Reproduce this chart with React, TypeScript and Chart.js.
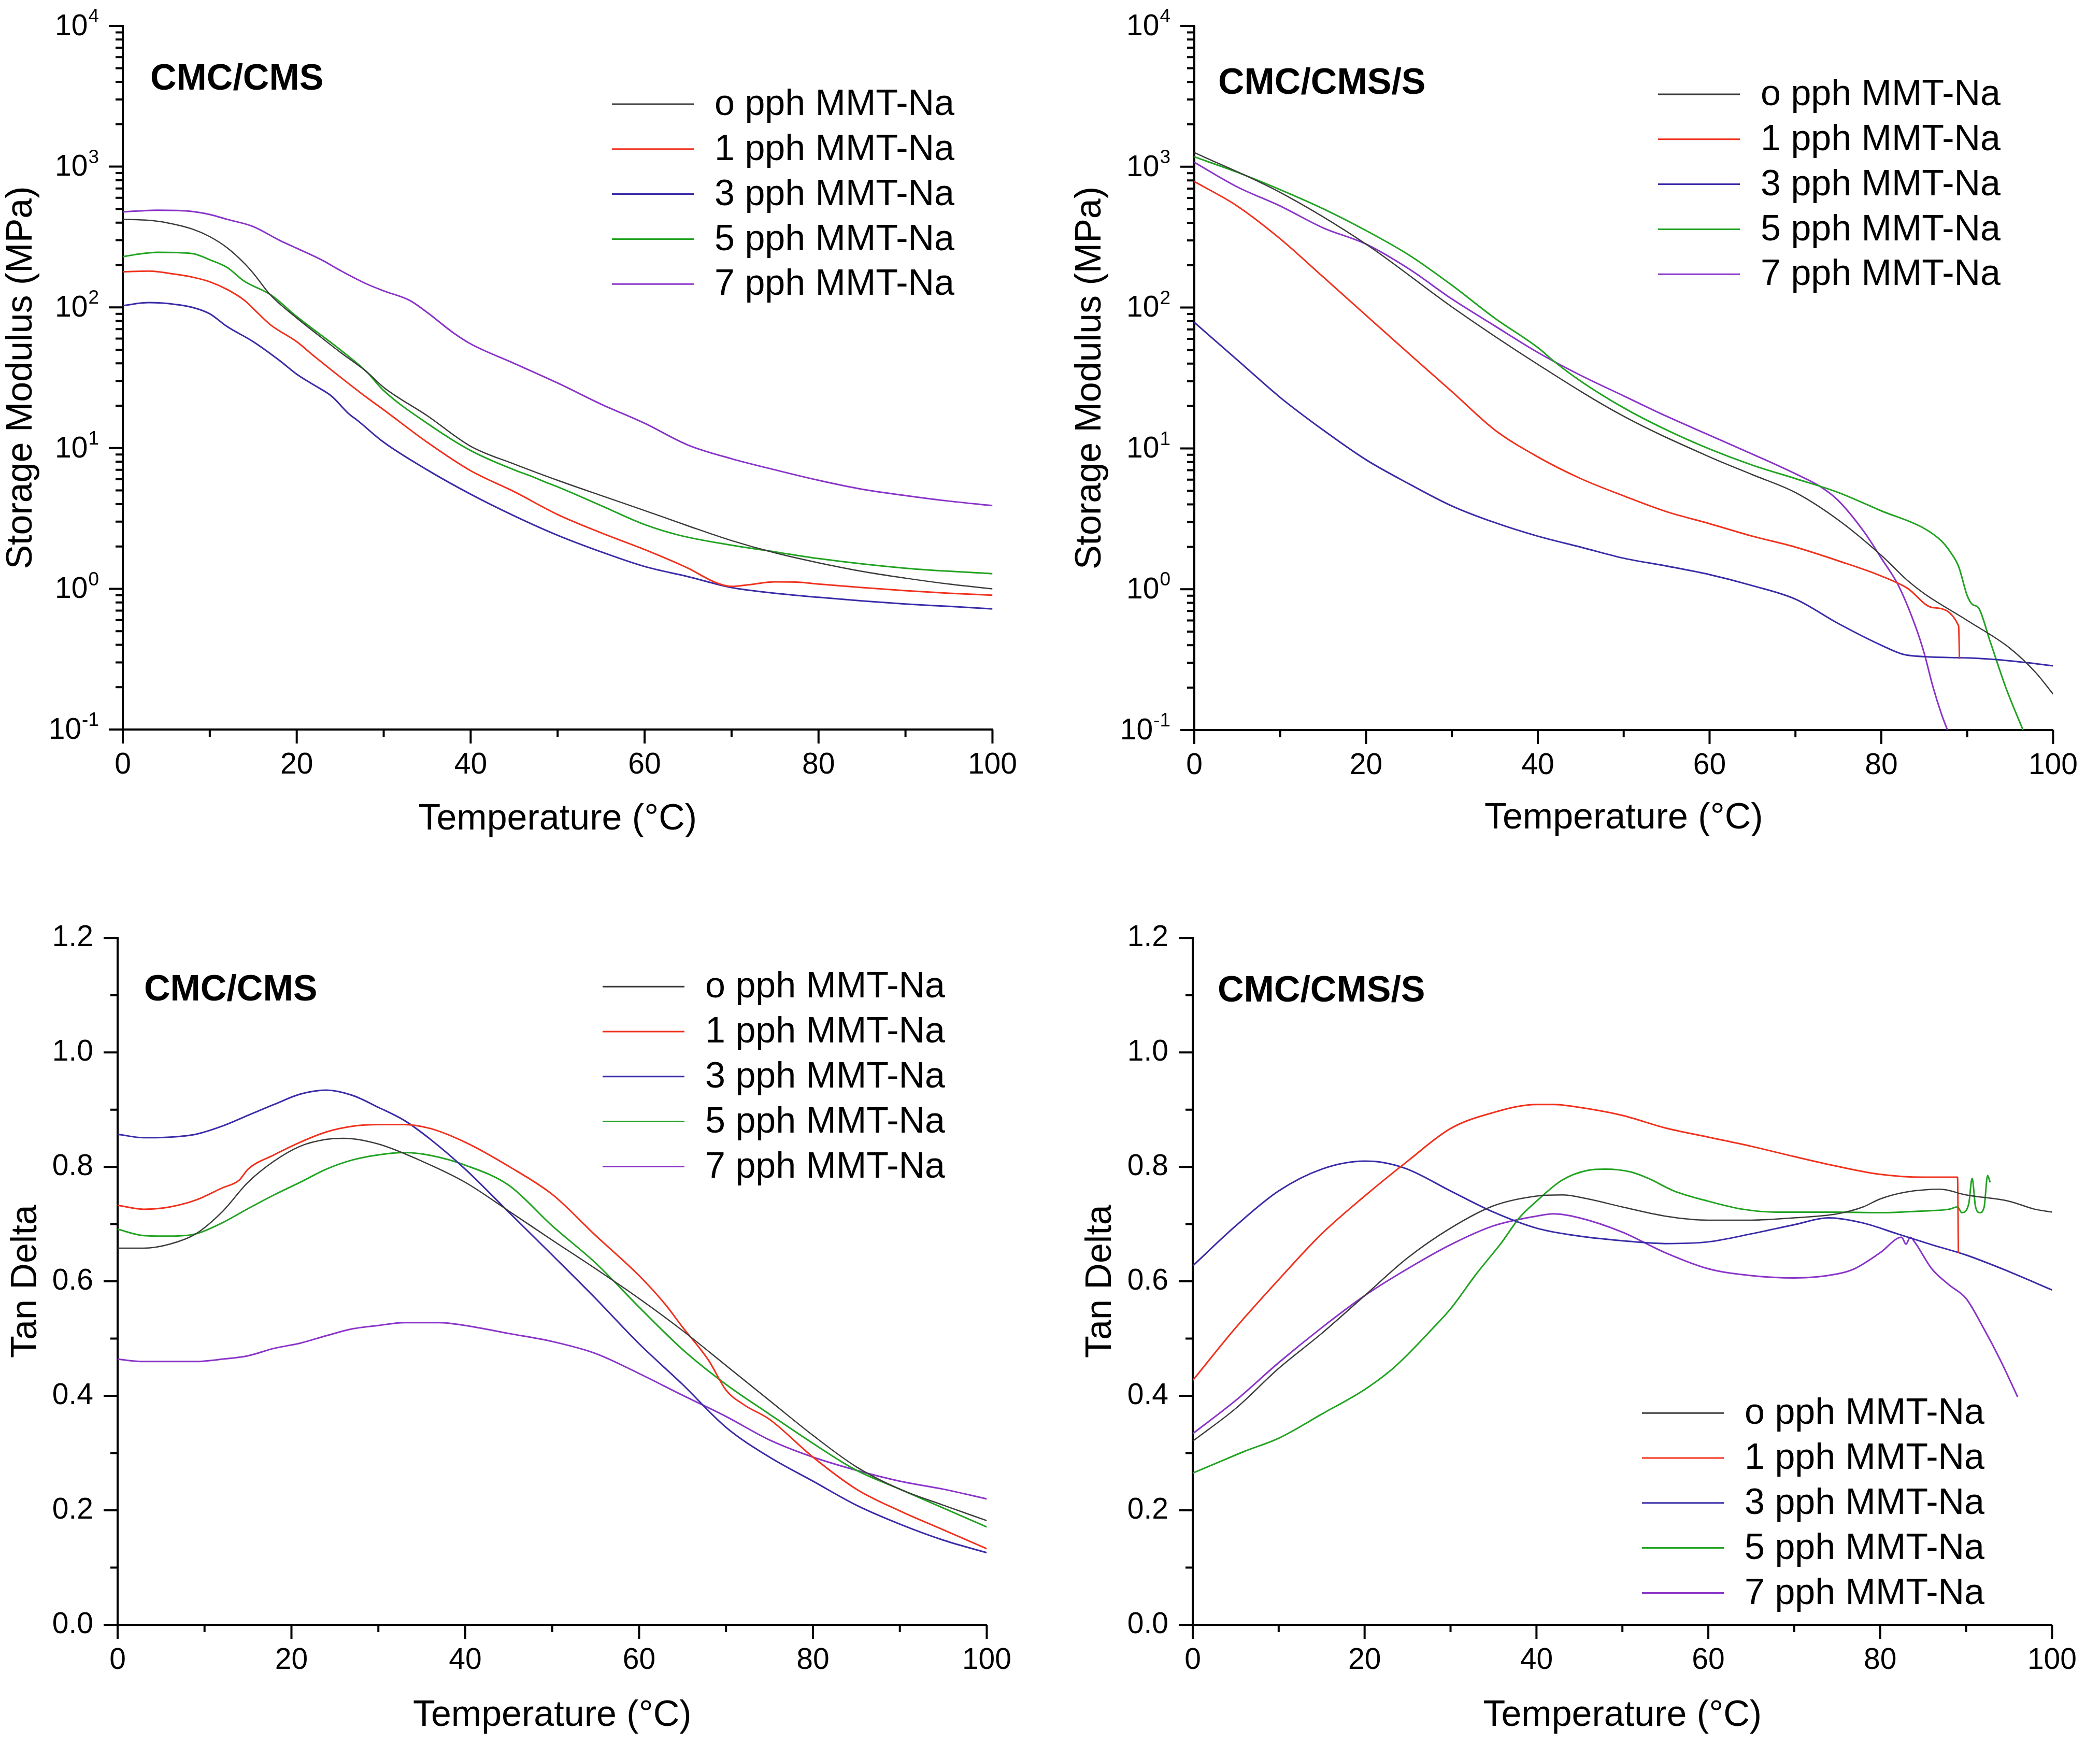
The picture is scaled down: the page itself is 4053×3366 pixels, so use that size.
import { useEffect, useRef } from "react";
import { Chart, registerables } from "chart.js";

Chart.register(...registerables);

const FONT = "'Liberation Sans', Arial, sans-serif";

// legend / series
const seriesLabels = ["o pph MMT-Na", "1 pph MMT-Na", "3 pph MMT-Na", "5 pph MMT-Na", "7 pph MMT-Na"];
const seriesColors = ["#3c3c3c", "#f0321e", "#3a2ca8", "#22a322", "#8a34c9"];

// ticks
const tempTicks = [0, 10, 20, 30, 40, 50, 60, 70, 80, 90, 100];
const logDecades = [-1, 0, 1, 2, 3, 4];
const logMinors = [2, 3, 4, 5, 6, 7, 8, 9];
const tanTicks = [0, 0.1, 0.2, 0.3, 0.4, 0.5, 0.6, 0.7, 0.8, 0.9, 1.0, 1.1, 1.2];

// ---- CMC/CMS storage modulus (MPa)
const a0T = [0, 3, 5, 8, 10, 12, 14, 15, 17, 20, 22, 25, 28, 30, 35, 40, 45, 50, 55, 60, 65, 70, 75, 80, 85, 90, 95, 100];
const a0V = [422, 415, 400, 360, 318, 265, 205, 175, 122, 84, 67, 48, 35, 27, 17, 10.3, 7.7, 5.9, 4.6, 3.6, 2.8, 2.2, 1.8, 1.53, 1.33, 1.19, 1.08, 1.0];
const a1T = [0, 3, 6, 8, 10, 12, 14, 15, 17, 20, 22, 25, 28, 30, 35, 40, 45, 50, 55, 60, 65, 68, 70, 72, 75, 78, 80, 85, 90, 95, 100];
const a1V = [179, 181, 172, 164, 152, 134, 112, 98, 75, 57, 45, 32, 23, 18.7, 11, 6.9, 4.9, 3.37, 2.5, 1.9, 1.4, 1.12, 1.04, 1.07, 1.12, 1.11, 1.08, 1.02, 0.97, 0.93, 0.9];
const a3T = [0, 3, 6, 8, 10, 12, 15, 18, 20, 22, 24, 26, 27, 30, 35, 40, 45, 50, 55, 60, 65, 70, 75, 80, 85, 90, 95, 100];
const a3V = [103, 108, 105, 100, 90, 73, 57, 42, 33.5, 28, 23.4, 17.5, 15.7, 11, 7.0, 4.7, 3.3, 2.4, 1.83, 1.44, 1.22, 1.02, 0.93, 0.87, 0.82, 0.78, 0.75, 0.72];
const a5T = [0, 2, 4, 8, 10, 12, 14, 17, 20, 25, 28, 30, 35, 40, 45, 47, 49, 50, 55, 60, 64, 70, 75, 80, 90, 100];
const a5V = [229, 240, 246, 241, 218, 192, 153, 123, 86, 50, 35, 25.6, 15, 9.6, 7, 6.3, 5.6, 5.3, 3.9, 2.86, 2.4, 2.04, 1.83, 1.64, 1.4, 1.28];
const a7T = [0, 2, 4, 8, 10, 12, 15, 18, 20, 23, 25, 28, 30, 33, 35, 38, 40, 45, 50, 55, 60, 65, 70, 75, 80, 85, 90, 95, 100];
const a7V = [477, 485, 490, 480, 457, 422, 375, 300, 263, 215, 183, 147, 131, 112, 92, 66, 55, 40, 29, 20.5, 15, 10.5, 8.4, 7.0, 5.9, 5.1, 4.6, 4.2, 3.9];

// ---- CMC/CMS/S storage modulus (MPa)
const b0T = [0, 10, 20, 30, 40, 50, 60, 65, 70, 75, 80, 83, 85, 90, 95, 98, 100];
const b0V = [1262, 657, 282, 101, 39.5, 16.9, 8.7, 6.5, 4.86, 3.1, 1.74, 1.16, 0.93, 0.6, 0.38, 0.255, 0.18];
const b1T = [0, 5, 10, 15, 20, 25, 30, 35, 40, 45, 50, 55, 60, 65, 70, 75, 80, 83, 86, 89, 89.1];
const b1V = [785, 526, 308, 165, 88, 47, 25.3, 13.5, 8.7, 6.1, 4.6, 3.55, 2.92, 2.38, 1.99, 1.59, 1.24, 1.02, 0.74, 0.55, 0.32];
const b3T = [0, 5, 10, 15, 20, 25, 30, 35, 40, 45, 50, 55, 60, 65, 70, 75, 80, 83, 90, 95, 100];
const b3V = [78.5, 42.5, 23, 13.5, 8.3, 5.6, 3.9, 2.97, 2.38, 1.99, 1.66, 1.46, 1.27, 1.06, 0.85, 0.57, 0.4, 0.34, 0.325, 0.31, 0.286];
const b5T = [0, 5, 10, 15, 20, 25, 30, 35, 40, 42, 45, 50, 55, 60, 65, 70, 75, 80, 85, 87, 88, 89, 90, 90.6, 91.3, 92.7, 94.5, 96.5];
const b5V = [1175, 914, 687, 503, 352, 236, 144, 84, 52, 41, 30, 19.4, 13.5, 9.9, 7.6, 6.1, 4.86, 3.6, 2.7, 2.2, 1.85, 1.45, 0.9, 0.78, 0.74, 0.42, 0.2, 0.1];
const b7T = [0, 5, 10, 15, 20, 25, 30, 35, 40, 45, 50, 55, 60, 65, 70, 73, 75, 78, 80, 82, 84, 85, 86, 87, 87.7];
const b7V = [1075, 719, 526, 368, 282, 188, 115, 74, 48, 33, 23.6, 16.9, 12.4, 9.1, 6.6, 5.3, 4.25, 2.55, 1.66, 1.06, 0.54, 0.35, 0.204, 0.13, 0.1];

// ---- CMC/CMS tan delta
const c0T = [0, 3, 6, 9, 12, 15, 18, 21, 24, 26, 30, 35, 40, 45, 50, 55, 60, 65, 70, 75, 80, 85, 90, 95, 100];
const c0V = [0.658, 0.658, 0.665, 0.683, 0.721, 0.773, 0.81, 0.836, 0.848, 0.85, 0.84, 0.81, 0.773, 0.723, 0.672, 0.622, 0.57, 0.514, 0.453, 0.392, 0.331, 0.276, 0.237, 0.209, 0.182];
const c1T = [0, 3, 6, 9, 12, 14, 15, 18, 21, 24, 27, 30, 33, 36, 40, 45, 50, 55, 60, 63, 65, 68, 70, 72, 75, 80, 85, 90, 95, 100];
const c1V = [0.733, 0.726, 0.73, 0.742, 0.763, 0.777, 0.796, 0.821, 0.843, 0.861, 0.871, 0.874, 0.874, 0.867, 0.843, 0.801, 0.752, 0.68, 0.61, 0.56, 0.52, 0.462, 0.41, 0.385, 0.359, 0.293, 0.237, 0.199, 0.166, 0.133];
const c3T = [0, 3, 6, 9, 12, 15, 18, 21, 24, 27, 30, 33, 36, 40, 45, 50, 55, 60, 65, 70, 75, 80, 85, 90, 95, 100];
const c3V = [0.857, 0.851, 0.852, 0.857, 0.871, 0.89, 0.909, 0.927, 0.934, 0.925, 0.904, 0.881, 0.848, 0.796, 0.721, 0.646, 0.57, 0.491, 0.42, 0.345, 0.293, 0.251, 0.209, 0.176, 0.148, 0.126];
const c5T = [0, 3, 6, 9, 12, 15, 18, 21, 24, 27, 30, 33, 36, 40, 45, 50, 55, 60, 65, 70, 75, 80, 85, 90, 95, 100];
const c5V = [0.691, 0.68, 0.679, 0.683, 0.702, 0.727, 0.751, 0.773, 0.796, 0.812, 0.821, 0.825, 0.82, 0.803, 0.768, 0.697, 0.632, 0.555, 0.481, 0.42, 0.368, 0.317, 0.27, 0.237, 0.204, 0.171];
const c7T = [0, 3, 6, 9, 12, 15, 18, 21, 24, 27, 30, 33, 37, 40, 45, 50, 55, 60, 65, 70, 75, 80, 85, 90, 95, 100];
const c7V = [0.464, 0.46, 0.46, 0.46, 0.464, 0.47, 0.483, 0.492, 0.505, 0.517, 0.523, 0.528, 0.528, 0.523, 0.509, 0.495, 0.474, 0.439, 0.401, 0.364, 0.323, 0.293, 0.27, 0.251, 0.237, 0.22];

// ---- CMC/CMS/S tan delta
const d0T = [0, 5, 10, 15, 20, 25, 30, 35, 40, 43, 46, 50, 55, 60, 65, 70, 75, 78, 80, 83, 87, 90, 95, 98, 100];
const d0V = [0.321, 0.378, 0.448, 0.509, 0.575, 0.641, 0.693, 0.732, 0.749, 0.751, 0.744, 0.73, 0.714, 0.707, 0.707, 0.711, 0.718, 0.73, 0.744, 0.756, 0.761, 0.751, 0.74, 0.726, 0.721];
const d1T = [0, 5, 10, 15, 20, 25, 30, 35, 40, 42, 45, 50, 55, 60, 65, 70, 75, 80, 85, 89, 89.1];
const d1V = [0.427, 0.519, 0.603, 0.683, 0.749, 0.81, 0.867, 0.895, 0.909, 0.909, 0.904, 0.89, 0.868, 0.852, 0.836, 0.818, 0.801, 0.787, 0.782, 0.782, 0.65];
const d3T = [0, 5, 10, 15, 20, 22, 25, 30, 35, 40, 45, 50, 55, 60, 65, 70, 74, 78, 82, 86, 90, 95, 100];
const d3V = [0.627, 0.697, 0.758, 0.796, 0.81, 0.808, 0.796, 0.758, 0.721, 0.693, 0.679, 0.671, 0.666, 0.669, 0.683, 0.699, 0.711, 0.702, 0.683, 0.664, 0.646, 0.617, 0.585];
const d5T = [0, 3, 6, 10, 15, 20, 23, 25, 28, 30, 33, 36, 38, 40, 43, 46, 48, 51, 53, 56, 60, 64, 68, 75, 80, 85, 88, 89, 89.5, 90.3, 90.7, 91.1, 91.6, 92.1, 92.5, 92.8];
const d5V = [0.265, 0.284, 0.303, 0.326, 0.368, 0.411, 0.444, 0.472, 0.519, 0.552, 0.613, 0.669, 0.711, 0.74, 0.777, 0.794, 0.796, 0.791, 0.78, 0.758, 0.74, 0.726, 0.721, 0.721, 0.72, 0.723, 0.726, 0.73, 0.72, 0.735, 0.78, 0.73, 0.72, 0.73, 0.785, 0.773];
const d7T = [0, 5, 10, 15, 20, 25, 30, 35, 40, 42, 45, 50, 55, 60, 65, 70, 75, 77, 80, 82.5, 83, 83.5, 84, 86, 88, 90, 92, 94, 96];
const d7V = [0.334, 0.392, 0.458, 0.519, 0.575, 0.622, 0.664, 0.697, 0.714, 0.718, 0.711, 0.686, 0.65, 0.622, 0.61, 0.606, 0.613, 0.622, 0.65, 0.677, 0.665, 0.677, 0.669, 0.622, 0.594, 0.57, 0.519, 0.462, 0.398];

type Cfg = {
  key: string;
  name: string;
  log: boolean;
  yTitle: string;
  box: { left: number; top: number; width: number; height: number };
  padTop: number;
  padRight: number;
  yWidth: number;
  xHeight: number;
  nameX: number;
  nameY: number;
  legX: number;
  legY: number;
  series: [number[], number[]][];
};

const panels: Cfg[] = [
  {
    key: "a", name: "CMC/CMS", log: true, yTitle: "Storage Modulus (MPa)",
    box: { left: 0, top: 0, width: 1998, height: 1628 }, padTop: 50, padRight: 80, yWidth: 237, xHeight: 220,
    nameX: 53, nameY: 104, legX: 944, legY: 151,
    series: [[a0T, a0V], [a1T, a1V], [a3T, a3V], [a5T, a5V], [a7T, a7V]],
  },
  {
    key: "b", name: "CMC/CMS/S", log: true, yTitle: "Storage Modulus (MPa)",
    box: { left: 2063, top: 0, width: 1982, height: 1626 }, padTop: 50, padRight: 60, yWidth: 242, xHeight: 217,
    nameX: 46, nameY: 112, legX: 895, legY: 132,
    series: [[b0T, b0V], [b1T, b1V], [b3T, b3V], [b5T, b5V], [b7T, b7V]],
  },
  {
    key: "c", name: "CMC/CMS", log: false, yTitle: "Tan Delta",
    box: { left: 9, top: 1729, width: 1978, height: 1629 }, padTop: 50, padRight: 80, yWidth: 218, xHeight: 222,
    nameX: 51, nameY: 102, legX: 936, legY: 94,
    series: [[c0T, c0V], [c1T, c1V], [c3T, c3V], [c5T, c5V], [c7T, c7V]],
  },
  {
    key: "d", name: "CMC/CMS/S", log: false, yTitle: "Tan Delta",
    box: { left: 2083, top: 1729, width: 1960, height: 1629 }, padTop: 50, padRight: 60, yWidth: 219, xHeight: 222,
    nameX: 48, nameY: 104, legX: 867, legY: 917,
    series: [[d0T, d0V], [d1T, d1V], [d3T, d3V], [d5T, d5V], [d7T, d7V]],
  },
];

function decorPlugin(cfg: Cfg) {
  return {
    id: "decor" + cfg.key,
    afterDraw(chart: any) {
      const { ctx, chartArea: a } = chart;
      const xs = chart.scales.x;
      const ys = chart.scales.y;
      ctx.save();
      ctx.strokeStyle = "#000";
      ctx.fillStyle = "#000";
      ctx.lineWidth = 4;
      ctx.lineCap = "butt";

      // tick marks, long for majors and short for minors
      ctx.beginPath();
      for (const t of tempTicks) {
        const px = xs.getPixelForValue(t);
        const len = t % 20 === 0 ? 27 : 14;
        ctx.moveTo(px, a.bottom);
        ctx.lineTo(px, a.bottom + len);
      }
      if (cfg.log) {
        for (const d of logDecades) {
          const py = ys.getPixelForValue(Math.pow(10, d));
          ctx.moveTo(a.left - 27, py);
          ctx.lineTo(a.left, py);
          if (d < logDecades[logDecades.length - 1]) {
            for (const m of logMinors) {
              const pm = ys.getPixelForValue(m * Math.pow(10, d));
              ctx.moveTo(a.left - 14, pm);
              ctx.lineTo(a.left, pm);
            }
          }
        }
      } else {
        for (const v of tanTicks) {
          const py = ys.getPixelForValue(v);
          const len = Math.round(v * 10) % 2 === 0 ? 27 : 14;
          ctx.moveTo(a.left - len, py);
          ctx.lineTo(a.left, py);
        }
      }
      ctx.stroke();

      // log tick labels with superscript exponent
      if (cfg.log) {
        ctx.textBaseline = "middle";
        for (const d of logDecades) {
          const py = ys.getPixelForValue(Math.pow(10, d));
          const exp = String(d);
          ctx.font = `37px ${FONT}`;
          const ew = ctx.measureText(exp).width;
          const right = a.left - 46;
          ctx.textAlign = "left";
          ctx.fillText(exp, right - ew, py - 17);
          ctx.font = `57px ${FONT}`;
          ctx.textAlign = "right";
          ctx.fillText("10", right - ew - 1, py + 2);
        }
      }

      // panel name
      ctx.font = `bold 70px ${FONT}`;
      ctx.textAlign = "left";
      ctx.textBaseline = "middle";
      ctx.fillText(cfg.name, a.left + cfg.nameX, a.top + cfg.nameY);

      // legend
      ctx.font = `70px ${FONT}`;
      chart.data.datasets.forEach((ds: any, i: number) => {
        const y = a.top + cfg.legY + i * 86.8;
        ctx.strokeStyle = ds.borderColor;
        ctx.lineWidth = 3;
        ctx.beginPath();
        ctx.moveTo(a.left + cfg.legX, y);
        ctx.lineTo(a.left + cfg.legX + 158, y);
        ctx.stroke();
        ctx.fillStyle = "#000";
        ctx.fillText(ds.label, a.left + cfg.legX + 198, y + 2);
      });
      ctx.restore();
    },
  };
}

function PanelChart({ cfg }: { cfg: Cfg }) {
  const canvasRef = useRef<HTMLCanvasElement | null>(null);

  useEffect(() => {
    if (!canvasRef.current) return;
    const ctx = canvasRef.current.getContext("2d");
    if (!ctx) return;

    const datasets = cfg.series.map(([t, v], i) => ({
      label: seriesLabels[i],
      data: t.map((x, j) => ({ x, y: v[j] })),
      borderColor: seriesColors[i],
      borderWidth: i === 0 ? 2.5 : 3,
      pointRadius: 0,
      fill: false,
      cubicInterpolationMode: "monotone" as const,
    }));

    const yScale: any = cfg.log
      ? {
          type: "logarithmic",
          min: 0.1,
          max: 10000,
          ticks: { callback: () => "", autoSkip: false },
        }
      : {
          type: "linear",
          min: 0,
          max: 1.2,
          ticks: {
            stepSize: 0.2,
            padding: 47,
            color: "#000",
            font: { family: FONT, size: 57 },
            callback: (v: any) => Number(v).toFixed(1),
          },
        };
    yScale.grid = { display: false, drawTicks: false };
    yScale.border = { display: true, color: "#000", width: 4 };
    yScale.title = {
      display: true,
      text: cfg.yTitle,
      color: "#000",
      font: { family: FONT, size: 70 },
      padding: { top: 0, bottom: 0 },
    };
    yScale.afterFit = (s: any) => {
      s.width = cfg.yWidth;
    };

    const chart = new Chart(ctx, {
      type: "line",
      data: { datasets },
      options: {
        animation: false,
        responsive: true,
        maintainAspectRatio: false,
        layout: { padding: { top: cfg.padTop, right: cfg.padRight, left: 0, bottom: 0 } },
        plugins: { legend: { display: false }, tooltip: { enabled: false } },
        scales: {
          x: {
            type: "linear",
            min: 0,
            max: 100,
            grid: { display: false, drawTicks: false },
            border: { display: true, color: "#000", width: 4 },
            ticks: {
              stepSize: 20,
              padding: 35,
              maxRotation: 0,
              autoSkip: false,
              color: "#000",
              font: { family: FONT, size: 57 },
            },
            title: {
              display: true,
              text: "Temperature (°C)",
              color: "#000",
              font: { family: FONT, size: 70 },
              padding: { top: 0, bottom: 4 },
            },
            afterFit: (s: any) => {
              s.height = cfg.xHeight;
            },
          },
          y: yScale,
        },
      },
      plugins: [decorPlugin(cfg)],
    });

    return () => chart.destroy();
  }, [cfg]);

  const b = cfg.box;
  return (
    <div style={{ position: "absolute", left: b.left, top: b.top, width: b.width, height: b.height }}>
      <canvas ref={canvasRef} />
    </div>
  );
}

export default function App() {
  return (
    <div style={{ position: "absolute", left: 0, top: 0, width: 4053, height: 3366, background: "#fff", overflow: "hidden" }}>
      {panels.map((p) => (
        <PanelChart key={p.key} cfg={p} />
      ))}
    </div>
  );
}
